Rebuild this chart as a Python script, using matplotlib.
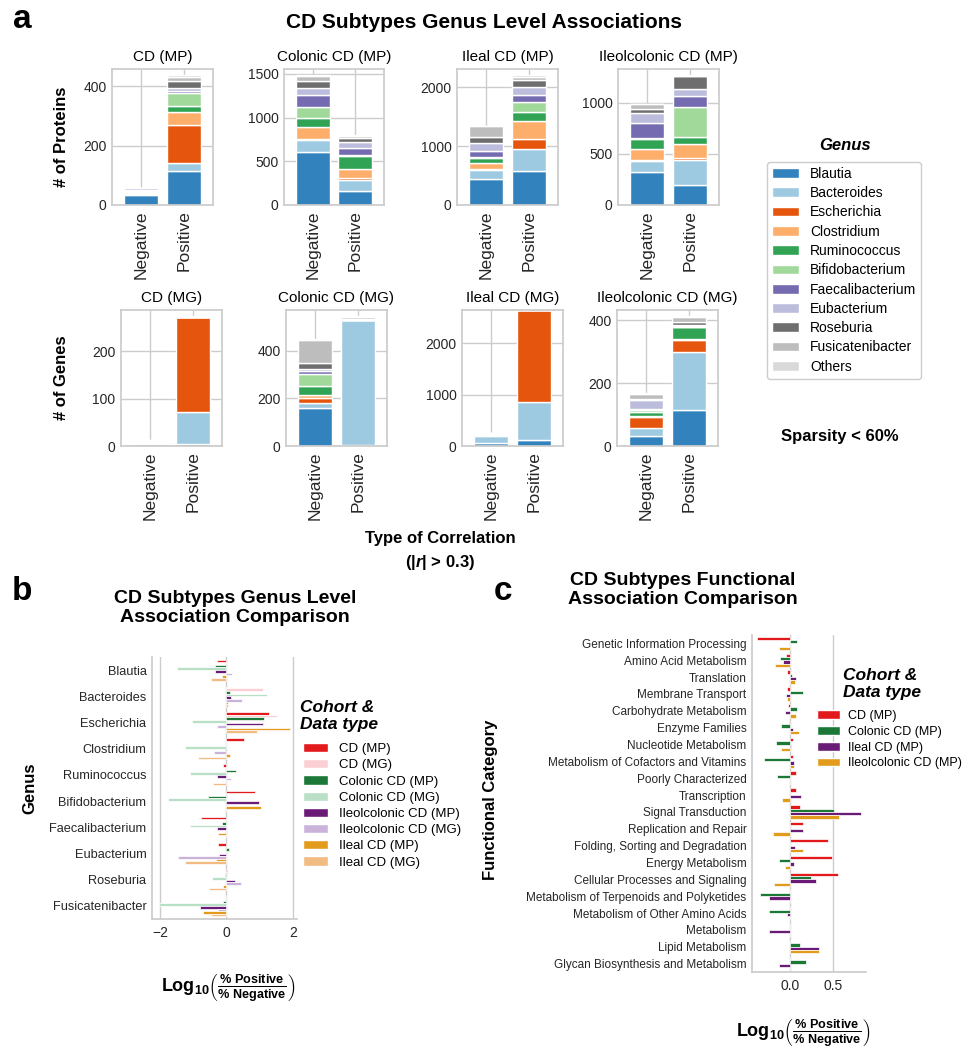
import matplotlib
matplotlib.use('Agg')
import matplotlib.pyplot as plt
from matplotlib.patches import Patch
import numpy as np

plt.rcParams['font.family'] = ['Liberation Sans', 'DejaVu Sans']
plt.rcParams['mathtext.fontset'] = 'custom'
plt.rcParams['mathtext.rm'] = 'Liberation Sans'
plt.rcParams['mathtext.bf'] = 'Liberation Sans:bold'
plt.rcParams['mathtext.it'] = 'Liberation Sans:bold:italic'
plt.rcParams['axes.edgecolor'] = '#cccccc'
plt.rcParams['axes.linewidth'] = 1.25
plt.rcParams['grid.color'] = '#cccccc'
plt.rcParams['grid.linewidth'] = 1.0
plt.rcParams['xtick.color'] = '#262626'
plt.rcParams['ytick.color'] = '#262626'

# ---------------- data : panel a (stacked genus counts) ----------------
genera = ['Blautia', 'Bacteroides', 'Escherichia', 'Clostridium', 'Ruminococcus',
          'Bifidobacterium', 'Faecalibacterium', 'Eubacterium', 'Roseburia',
          'Fusicatenibacter', 'Others']
genus_colors = ['#3182bd', '#9ecae1', '#e6550d', '#fdae6b', '#31a354', '#a1d99b',
                '#756bb1', '#bcbddc', '#6e6e6e', '#bdbdbd', '#d9d9d9']
corr_types = ['Negative', 'Positive']

cd_mp_neg = [35, 3, 3, 4, 3, 3, 5, 0, 0, 0, 1]
cd_mp_pos = [116, 27, 125, 46, 18, 44, 8, 10, 24, 14, 4]
col_mp_neg = [605, 140, 10, 135, 105, 130, 130, 80, 80, 60, 8]
col_mp_pos = [159, 128, 23, 105, 143, 19, 74, 70, 46, 23, 16]
ileal_mp_neg = [445, 150, 15, 100, 80, 25, 100, 135, 105, 180, 15]
ileal_mp_pos = [580, 375, 160, 315, 155, 170, 115, 130, 130, 45, 25]
ileocol_mp_neg = [325, 105, 10, 105, 95, 10, 150, 95, 45, 45, 5]
ileocol_mp_pos = [200, 235, 20, 145, 65, 295, 105, 70, 125, 3, 2]

cd_mg_neg = [4, 1, 0, 1, 1, 1, 0, 1, 1, 2, 0]
cd_mg_pos = [5, 67, 200, 0, 0, 0, 0, 0, 0, 0, 1]
col_mg_neg = [158, 22, 20, 14, 36, 52, 12, 8, 24, 100, 4]
col_mg_pos = [5, 522, 0, 0, 0, 0, 0, 0, 6, 6, 4]
ileal_mg_neg = [65, 125, 20, 10, 5, 5, 5, 5, 5, 5, 5]
ileal_mg_pos = [125, 740, 1785, 0, 0, 0, 0, 0, 0, 0, 0]
ileocol_mg_neg = [33, 25, 34, 5, 12, 6, 3, 28, 4, 15, 2]
ileocol_mg_pos = [116, 184, 36, 4, 37, 3, 2, 3, 10, 14, 3]

# ---------------- data : panel b (log10 ratio per genus) ----------------
genus_b = ['Blautia', 'Bacteroides', 'Escherichia', 'Clostridium', 'Ruminococcus',
           'Bifidobacterium', 'Faecalibacterium', 'Eubacterium', 'Roseburia',
           'Fusicatenibacter']
cohorts_b = ['CD (MP)', 'CD (MG)', 'Colonic CD (MP)', 'Colonic CD (MG)',
             'Ileolcolonic CD (MP)', 'Ileolcolonic CD (MG)', 'Ileal CD (MP)', 'Ileal CD (MG)']
colors_b = ['#e31a1c', '#fbcfd3', '#1b7837', '#b9e0c6', '#6a1b76', '#cbb2da',
            '#e39b1c', '#f1bb82']
b_cd_mp = [-0.29, 0.0, 1.27, 0.53, -0.10, 0.87, -0.78, -0.27, 0.03, 0.0]
b_cd_mg = [0.02, 1.09, 1.54, 0.02, 0.02, 0.0, 0.0, 0.0, 0.05, 0.0]
b_col_mp = [-0.36, 0.11, 1.14, 0.0, 0.28, -0.56, -0.13, 0.07, -0.04, -0.10]
b_col_mg = [-1.49, 1.21, -1.03, -1.25, -1.11, -1.77, -1.10, 0.0, -0.44, -2.05]
b_ileocol_mp = [-0.35, 0.13, 1.10, -0.03, -0.30, 0.98, -0.30, -0.23, 0.27, -0.80]
b_ileocol_mg = [0.16, 0.47, -0.29, -0.39, 0.15, 0.0, 0.0, -1.47, 0.45, -0.25]
b_ileal_mp = [-0.14, 0.06, 1.93, 0.12, 0.0, 1.05, -0.27, -0.31, -0.11, -0.72]
b_ileal_mg = [-0.46, 0.06, 0.93, -0.87, -0.41, 0.0, 0.0, -1.25, -0.53, -0.48]

# ---------------- data : panel c (log10 ratio per function) ----------------
func_cats = ['Genetic Information Processing', 'Amino Acid Metabolism', 'Translation',
             'Membrane Transport', 'Carbohydrate Metabolism', 'Enzyme Families',
             'Nucleotide Metabolism', 'Metabolism of Cofactors and Vitamins',
             'Poorly Characterized', 'Transcription', 'Signal Transduction',
             'Replication and Repair', 'Folding, Sorting and Degradation',
             'Energy Metabolism', 'Cellular Processes and Signaling',
             'Metabolism of Terpenoids and Polyketides', 'Metabolism of Other Amino Acids',
             'Metabolism', 'Lipid Metabolism', 'Glycan Biosynthesis and Metabolism']
cohorts_c = ['CD (MP)', 'Colonic CD (MP)', 'Ileal CD (MP)', 'Ileolcolonic CD (MP)']
colors_c = ['#e31a1c', '#1b7837', '#6a1b76', '#e39b1c']
c_cd = [-0.38, -0.05, -0.04, -0.03, -0.02, -0.01, 0.035, 0.04, 0.075, 0.075,
        0.11, 0.155, 0.44, 0.485, 0.55, 0.0, 0.0, 0.0, 0.0, 0.0]
c_col = [0.08, -0.12, 0.02, 0.15, 0.085, -0.10, -0.165, -0.30, -0.15, 0.0,
         0.51, 0.0, 0.0, -0.13, 0.24, -0.35, -0.24, 0.0, 0.115, 0.18]
c_ileal = [0.0, -0.08, 0.065, -0.05, -0.06, 0.04, 0.01, 0.045, 0.0, 0.13,
           0.82, 0.15, 0.06, 0.045, 0.30, -0.24, -0.04, -0.24, 0.34, -0.13]
c_ileocol = [-0.13, -0.17, 0.06, -0.04, 0.07, 0.10, -0.10, 0.045, 0.0, -0.09,
             0.57, -0.20, 0.155, -0.06, -0.18, 0.0, 0.0, 0.0, 0.34, 0.0]

W, H = 969, 1050
fig = plt.figure(figsize=(W / 100, H / 100), dpi=100)


def add_ax(l, t, r, b):
    return fig.add_axes([l / W, 1 - b / H, (r - l) / W, (b - t) / H])


def ftext(x, y, s, **kw):
    fig.text(x / W, 1 - y / H, s, **kw)


def stacked(box, neg, pos, title, yticks):
    ax = add_ax(*box)
    ax.set_axisbelow(True)
    ax.grid(True)
    vals = np.array([neg, pos]).T
    bottom = np.zeros(2)
    for row, c in zip(vals, genus_colors):
        ax.bar([0, 1], row, 0.8, bottom=bottom, color=c, edgecolor='white', linewidth=1.0)
        bottom += row
    ax.set_xlim(-0.67, 1.67)
    ax.set_xticks([0, 1])
    ax.set_xticklabels(corr_types, rotation=90, fontsize=12.5)
    ax.set_yticks(yticks)
    ax.tick_params(axis='y', labelsize=10, length=0, pad=4)
    ax.tick_params(axis='x', length=0, pad=4)
    ax.set_title(title, fontsize=11, pad=6)
    return ax


# ---------------- panel a ----------------
stacked((112, 69, 213, 205), cd_mp_neg, cd_mp_pos, 'CD (MP)', [0, 200, 400])
stacked((284, 69, 384, 205), col_mp_neg, col_mp_pos, 'Colonic CD (MP)', [0, 500, 1000, 1500])
stacked((457, 69, 558, 205), ileal_mp_neg, ileal_mp_pos, 'Ileal CD (MP)', [0, 1000, 2000])
stacked((618, 69, 719, 205), ileocol_mp_neg, ileocol_mp_pos, 'Ileolcolonic CD (MP)', [0, 500, 1000])
stacked((121, 310, 222, 446), cd_mg_neg, cd_mg_pos, 'CD (MG)', [0, 100, 200])
stacked((286, 310, 387, 446), col_mg_neg, col_mg_pos, 'Colonic CD (MG)', [0, 200, 400])
stacked((462, 310, 563, 446), ileal_mg_neg, ileal_mg_pos, 'Ileal CD (MG)', [0, 1000, 2000])
stacked((617, 310, 718, 446), ileocol_mg_neg, ileocol_mg_pos, 'Ileolcolonic CD (MG)', [0, 200, 400])

ftext(22, 20, 'a', fontsize=24, fontweight='bold', ha='center', va='center')
ftext(484, 22, 'CD Subtypes Genus Level Associations', fontsize=15, fontweight='bold',
      ha='center', va='center')
ftext(62, 137, '# of Proteins', fontsize=12, fontweight='bold', rotation=90, ha='center', va='center')
ftext(62, 378, '# of Genes', fontsize=12, fontweight='bold', rotation=90, ha='center', va='center')
ftext(440, 538, 'Type of Correlation', fontsize=12, fontweight='bold', ha='center', va='center')
ftext(440, 562, r'(|$\it{r}$| > 0.3)', fontsize=12, fontweight='bold', ha='center', va='center')
ftext(845, 145, 'Genus', fontsize=12, fontweight='bold', fontstyle='italic', ha='center', va='center')
ftext(840, 436, 'Sparsity < 60%', fontsize=12, fontweight='bold', ha='center', va='center')

handles_a = [Patch(facecolor=c, edgecolor='white', label=g) for g, c in zip(genera, genus_colors)]
fig.legend(handles=handles_a, loc='upper left', bbox_to_anchor=(767 / W, 1 - 162 / H),
           borderaxespad=0, borderpad=0.35, fontsize=10, handlelength=1.95,
           handletextpad=0.8, labelspacing=0.38, frameon=True, edgecolor='#cccccc',
           framealpha=1, fancybox=True)

# ---------------- panel b ----------------
axb = add_ax(152, 657, 297, 919)
axb.set_axisbelow(True)
axb.xaxis.grid(True)
axb.yaxis.grid(False)
yb = np.arange(len(genus_b))
series_b = [b_cd_mp, b_cd_mg, b_col_mp, b_col_mg, b_ileocol_mp, b_ileocol_mg, b_ileal_mp, b_ileal_mg]
for k, (vals, c) in enumerate(zip(series_b, colors_b)):
    axb.barh(yb - 0.35 + 0.1 * k, vals, 0.1, color=c, edgecolor='white', linewidth=0.5)
axb.set_ylim(len(genus_b) - 0.5, -0.5)
axb.set_yticks(yb)
axb.set_yticklabels(genus_b, fontsize=9.2)
axb.set_xticks([-2, 0, 2])
axb.tick_params(axis='x', labelsize=10, length=0, pad=5)
axb.tick_params(axis='y', length=0, pad=4)
axb.spines['top'].set_visible(False)
axb.spines['right'].set_visible(False)

ftext(22, 592, 'b', fontsize=24, fontweight='bold', ha='center', va='center')
ftext(235, 608, 'CD Subtypes Genus Level\nAssociation Comparison', fontsize=14,
      fontweight='bold', ha='center', va='center', linespacing=1.2)
ftext(30, 788, 'Genus', fontsize=12, fontweight='bold', rotation=90, ha='center', va='center')
logexpr = r'$\mathbf{Log_{10}}\left(\frac{\mathbf{\%\ Positive}}{\mathbf{\%\ Negative}}\right)$'
ftext(228, 988, logexpr, fontsize=13, ha='center', va='center')
ftext(300, 716, 'Cohort &\nData type', fontsize=12.5, fontweight='bold', fontstyle='italic',
      ha='left', va='center', linespacing=1.15)
handles_b = [Patch(facecolor=c, edgecolor='white', label=g) for g, c in zip(cohorts_b, colors_b)]
fig.legend(handles=handles_b, loc='upper left', bbox_to_anchor=(303 / W, 1 - 743 / H),
           borderaxespad=0, borderpad=0, fontsize=9.5, handlelength=1.9,
           handletextpad=0.8, labelspacing=0.3, frameon=False)

# ---------------- panel c ----------------
axc = add_ax(752, 635, 866, 972)
axc.set_axisbelow(True)
axc.xaxis.grid(True)
axc.yaxis.grid(False)
yc = np.arange(len(func_cats))
series_c = [c_cd, c_col, c_ileal, c_ileocol]
for k, (vals, c) in enumerate(zip(series_c, colors_c)):
    axc.barh(yc - 0.3 + 0.2 * k, vals, 0.2, color=c, edgecolor='white', linewidth=0.5)
axc.set_ylim(len(func_cats) - 0.5, -0.5)
axc.set_yticks(yc)
axc.set_yticklabels(func_cats, fontsize=8.5)
axc.set_xticks([0.0, 0.5])
axc.set_xticklabels(['0.0', '0.5'])
axc.tick_params(axis='x', labelsize=10, length=0, pad=5)
axc.tick_params(axis='y', length=0, pad=4)
axc.spines['top'].set_visible(False)
axc.spines['right'].set_visible(False)

ftext(503, 592, 'c', fontsize=24, fontweight='bold', ha='center', va='center')
ftext(683, 590, 'CD Subtypes Functional\nAssociation Comparison', fontsize=14,
      fontweight='bold', ha='center', va='center', linespacing=1.2)
ftext(490, 800, 'Functional Category', fontsize=12, fontweight='bold', rotation=90,
      ha='center', va='center')
ftext(803, 1033, logexpr, fontsize=13, ha='center', va='center')
ftext(843, 684, 'Cohort &\nData type', fontsize=12.5, fontweight='bold', fontstyle='italic',
      ha='left', va='center', linespacing=1.15)
handles_c = [Patch(facecolor=c, edgecolor='white', label=g) for g, c in zip(cohorts_c, colors_c)]
fig.legend(handles=handles_c, loc='upper left', bbox_to_anchor=(817 / W, 1 - 710 / H),
           borderaxespad=0, borderpad=0, fontsize=9, handlelength=1.8,
           handletextpad=0.7, labelspacing=0.3, frameon=False)

fig.savefig('out.png', dpi=100)
